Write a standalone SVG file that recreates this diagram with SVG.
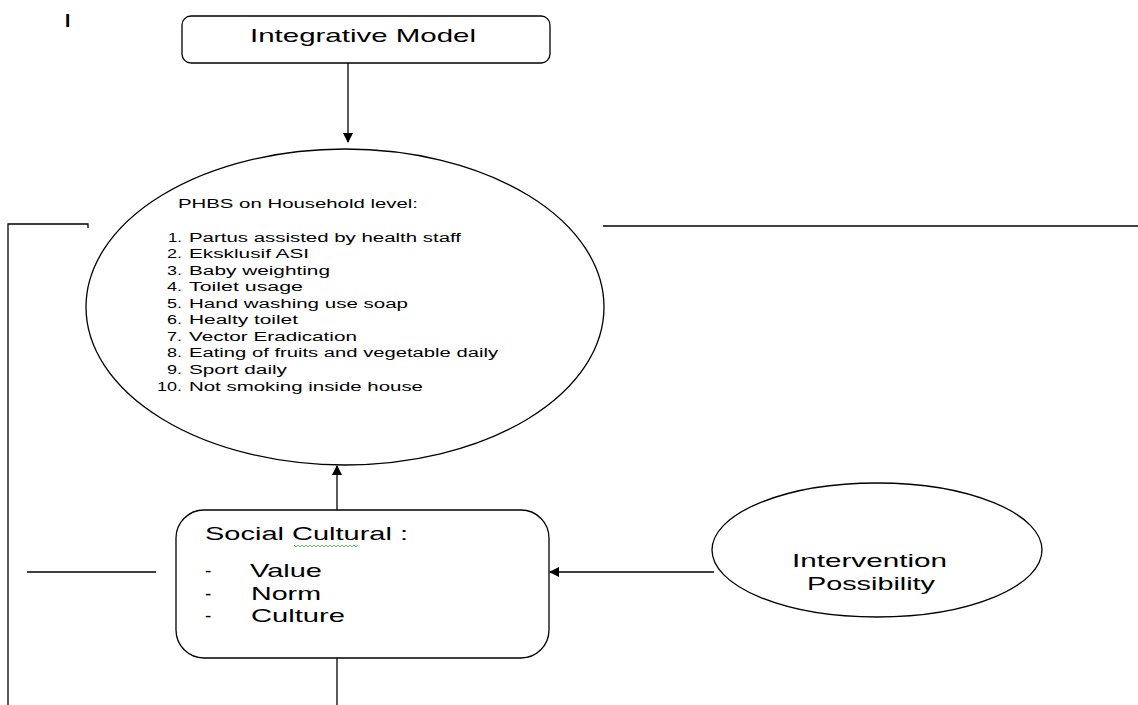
<svg xmlns="http://www.w3.org/2000/svg" width="1138" height="705" viewBox="0 0 1138 705">
<style>
.s{fill:none;stroke:#000;stroke-width:1.3}
.t{font-family:"Liberation Sans",Arial,sans-serif;fill:#000}
.small{font-size:12px}
.big{font-size:19px}
</style>
<defs>
<marker id="ah" viewBox="0 0 10 10" refX="9" refY="5" markerWidth="10" markerHeight="10" markerUnits="userSpaceOnUse" orient="auto">
<path d="M0,0 L10,5 L0,10 z" fill="#000"/>
</marker>
</defs>
<rect width="1138" height="705" fill="#fff"/>
<text class="t" x="65" y="27" font-size="19" font-weight="bold">I</text>
<g id="connectors">
<line class="s" x1="348" y1="63" x2="348" y2="142" marker-end="url(#ah)"/>
<line class="s" x1="337" y1="510" x2="337" y2="466" marker-end="url(#ah)"/>
<line class="s" x1="714" y1="572" x2="550" y2="572" marker-end="url(#ah)"/>
<polyline class="s" points="88,228 88,224 8,224 8,705"/>
<line class="s" x1="603" y1="226" x2="1138" y2="226"/>
<line class="s" x1="27" y1="572" x2="156" y2="572"/>
<line class="s" x1="337" y1="658" x2="337" y2="705"/>
</g>
<g id="integrative-model">
<rect class="s" x="182" y="16" width="368" height="47" rx="9"/>
<text class="t big" x="250" y="42" font-size="20" textLength="226" lengthAdjust="spacingAndGlyphs">Integrative Model</text>
</g>
<g id="phbs">
<ellipse class="s" cx="345" cy="307" rx="259" ry="158"/>
<g class="t small">
<text x="178" y="208" textLength="240" lengthAdjust="spacingAndGlyphs">PHBS on Household level:</text>
<text x="168" y="242" textLength="14" lengthAdjust="spacingAndGlyphs">1.</text><text x="189" y="242" textLength="272" lengthAdjust="spacingAndGlyphs">Partus assisted by health staff</text>
<text x="167" y="258" textLength="15" lengthAdjust="spacingAndGlyphs">2.</text><text x="189" y="258" textLength="120" lengthAdjust="spacingAndGlyphs">Eksklusif ASI</text>
<text x="167" y="275" textLength="15" lengthAdjust="spacingAndGlyphs">3.</text><text x="189" y="275" textLength="141" lengthAdjust="spacingAndGlyphs">Baby weighting</text>
<text x="167" y="291" textLength="15" lengthAdjust="spacingAndGlyphs">4.</text><text x="189" y="291" textLength="114" lengthAdjust="spacingAndGlyphs">Toilet usage</text>
<text x="167" y="308" textLength="15" lengthAdjust="spacingAndGlyphs">5.</text><text x="189" y="308" textLength="219" lengthAdjust="spacingAndGlyphs">Hand washing use soap</text>
<text x="167" y="324" textLength="15" lengthAdjust="spacingAndGlyphs">6.</text><text x="189" y="324" textLength="109" lengthAdjust="spacingAndGlyphs">Healty toilet</text>
<text x="167" y="341" textLength="15" lengthAdjust="spacingAndGlyphs">7.</text><text x="189" y="341" textLength="168" lengthAdjust="spacingAndGlyphs">Vector Eradication</text>
<text x="167" y="357" textLength="15" lengthAdjust="spacingAndGlyphs">8.</text><text x="189" y="357" textLength="309" lengthAdjust="spacingAndGlyphs">Eating of fruits and vegetable daily</text>
<text x="167" y="374" textLength="15" lengthAdjust="spacingAndGlyphs">9.</text><text x="189" y="374" textLength="98" lengthAdjust="spacingAndGlyphs">Sport daily</text>
<text x="157" y="391" textLength="25" lengthAdjust="spacingAndGlyphs">10.</text><text x="189" y="391" textLength="234" lengthAdjust="spacingAndGlyphs">Not smoking inside house</text>
</g>
</g>
<g id="social-cultural">
<rect class="s" x="176" y="510" width="373" height="148" rx="28"/>
<text class="t big" x="205" y="540" textLength="203" lengthAdjust="spacingAndGlyphs">Social Cultural :</text>
<path d="M294,545 l2,2 l2,-2 l2,2 l2,-2 l2,2 l2,-2 l2,2 l2,-2 l2,2 l2,-2 l2,2 l2,-2 l2,2 l2,-2 l2,2 l2,-2 l2,2 l2,-2 l2,2 l2,-2 l2,2 l2,-2 l2,2 l2,-2 l2,2 l2,-2 l2,2 l2,-2 l2,2 l2,-2 l2,2 l2,-2" fill="none" stroke="#3a3" stroke-width="0.8"/>
<text class="t big" x="205" y="577">-</text><text class="t big" x="250" y="577" textLength="72" lengthAdjust="spacingAndGlyphs">Value</text>
<text class="t big" x="205" y="600">-</text><text class="t big" x="251" y="600" textLength="70" lengthAdjust="spacingAndGlyphs">Norm</text>
<text class="t big" x="205" y="622">-</text><text class="t big" x="251" y="622" textLength="94" lengthAdjust="spacingAndGlyphs">Culture</text>
</g>
<g id="intervention">
<ellipse class="s" cx="877" cy="550" rx="165" ry="67"/>
<text class="t big" x="792" y="567" font-size="18" textLength="155" lengthAdjust="spacingAndGlyphs">Intervention</text>
<text class="t big" x="807" y="590" font-size="18" textLength="128" lengthAdjust="spacingAndGlyphs">Possibility</text>
</g>
</svg>
